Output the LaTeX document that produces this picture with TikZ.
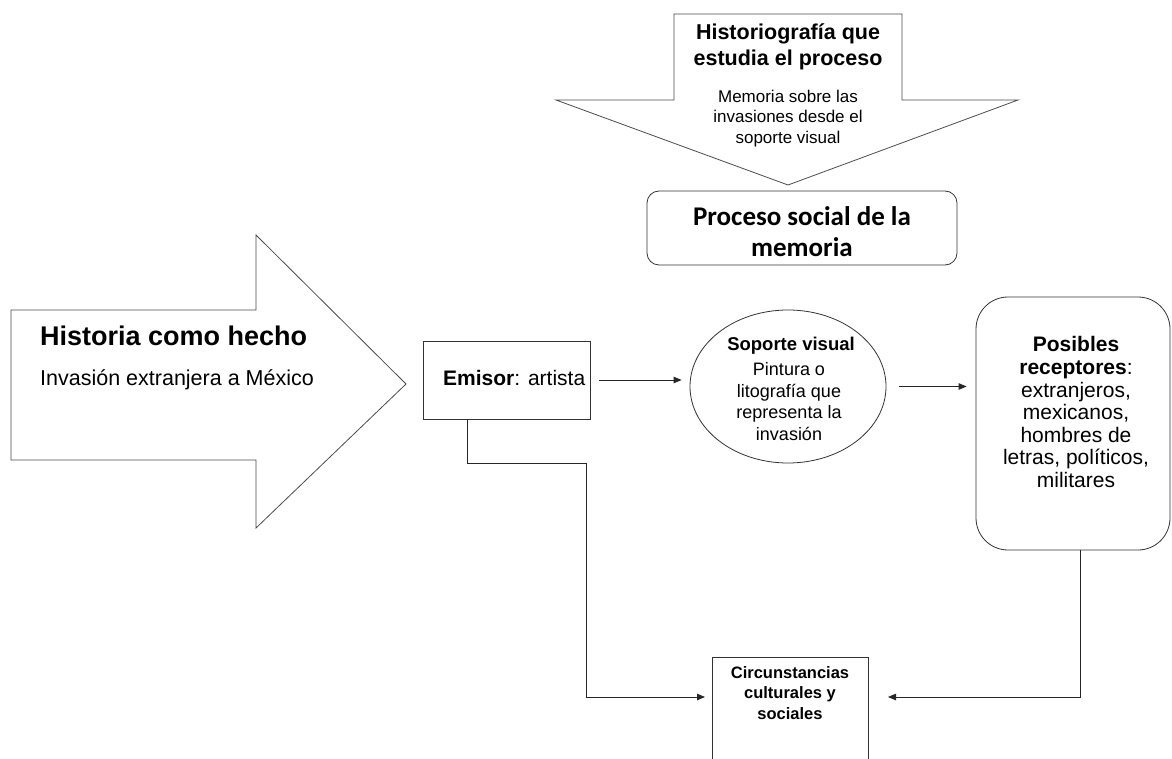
\documentclass[tikz,border=0pt]{standalone}
\usepackage{fontspec}
\setmainfont{Liberation Sans}
\newfontfamily\calib{Carlito}
\usetikzlibrary{arrows.meta,shapes.geometric,calc}
\begin{document}
\begin{tikzpicture}[x=1pt,y=-1pt,
  shp/.style={draw=black!70, line width=0.8pt, fill=white},
  box/.style={draw=black!80, line width=0.8pt},
  conn/.style={draw=black!85, line width=0.8pt},
  arr/.style={conn, -{Triangle[length=8pt,width=6.5pt]}},
  txt/.style={inner sep=0pt, align=center, text=black},
]
\useasboundingbox (0,0) rectangle (1172,759);
\clip (0,0) rectangle (1172,759);
\fill[white] (0,0) rectangle (1172,759);

% big right arrow
\draw[shp] (11,310) -- (256,310) -- (256,235) -- (406,384) -- (256,528) -- (256,460) -- (11,460) -- cycle;
\node[txt, anchor=base west, font=\bfseries\fontsize{27}{32}\selectfont] (hist) at (40,345) {Historia como hecho};
\node[txt, anchor=base west, font=\fontsize{21.5}{25}\selectfont] (inv) at (40,385) {Invasión extranjera a México};

% down arrow
\draw[shp] (674,14) -- (902,14) -- (902,100) -- (1018,100) -- (788,185) -- (556,100) -- (674,100) -- cycle;
\node[txt, anchor=north, font=\bfseries\fontsize{21.5}{26}\selectfont] (histg) at (788,23.4) {Historiografía que\\estudia el proceso};
\node[txt, anchor=north, font=\fontsize{17}{20.5}\selectfont] (mem) at (788,89.8) {Memoria sobre las\\invasiones desde el\\soporte visual};

% proceso social
\node[box, rounded corners=12pt, minimum width=310pt, minimum height=74pt] (proc) at (802,228) {};
\node[txt, font=\calib\bfseries\fontsize{27}{31}\selectfont] (proct) at (802,232) {Proceso social de la\\memoria};

% emisor
\node[box, minimum width=167pt, minimum height=78pt] (emi) at (506.5,380) {};
\node[txt, anchor=base west, font=\fontsize{21}{25}\selectfont] (emit) at (443,385) {\textbf{Emisor}: artista};

% soporte visual
\node[box, ellipse, minimum width=196pt, minimum height=153pt, inner sep=0pt] (sop) at (788,386.5) {};
\node[txt, anchor=base, font=\bfseries\fontsize{18.5}{22}\selectfont] (soph) at (791,350) {Soporte visual};
\node[txt, anchor=north, font=\fontsize{18}{21.5}\selectfont] (sopb) at (789,362.6) {Pintura o\\litografía que\\representa la\\invasión};

% receptores
\node[box, rounded corners=32pt, minimum width=194pt, minimum height=253pt] (rec) at (1073,423.5) {};
\node[txt, anchor=north, font=\fontsize{21}{22.6}\selectfont] (rect) at (1076,336.4) {\textbf{Posibles}\\\textbf{receptores}:\\extranjeros,\\mexicanos,\\hombres de\\letras, políticos,\\militares};

% circunstancias
\node[box, minimum width=156pt, minimum height=116pt, anchor=north] (circ) at (790,657) {};
\node[txt, anchor=north, font=\bfseries\fontsize{16.5}{20.5}\selectfont] (circt) at (790,666.3) {Circunstancias\\culturales y\\sociales};

\coordinate (cl) at (705,697);
\coordinate (cr) at (888,697);
\coordinate (k1) at (586,463);

\draw[arr, shorten <=9pt, shorten >=8pt] (emi.east) -- (emi.east -| sop.west);
\draw[arr, shorten <=13pt, shorten >=9pt] (sop.east) -- (sop.east -| rec.west);
\draw[arr] ([xshift=-39.5pt]emi.south) |- (k1) |- (cl);
\draw[arr] ([xshift=7pt]rec.south) |- (cr);
\end{tikzpicture}
\end{document}
